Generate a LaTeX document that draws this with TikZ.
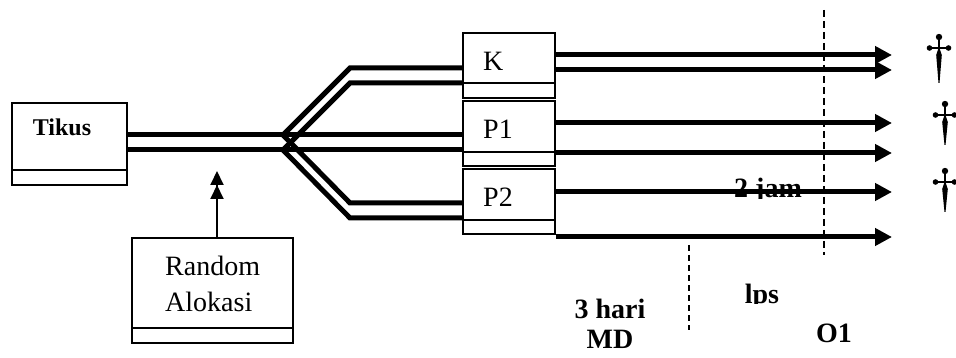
\documentclass[tikz,border=0pt]{standalone}
\usepackage{fontspec}
\setmainfont{Liberation Serif}
\usetikzlibrary{arrows.meta}
\begin{document}
\begin{tikzpicture}[x=1pt,y=-1pt,
  box/.style={draw,line width=1.1pt,rectangle,inner sep=0pt},
  rail/.style={line width=5pt,line join=miter},
  flow/.style={line width=5pt,-{Triangle[length=17pt,width=17pt]}},
  lbl/.style={font=\fontsize{28}{30}\selectfont,inner sep=0pt},
  blbl/.style={font=\fontsize{28}{30}\selectfont\bfseries,inner sep=0pt},
  marker/.style={line width=2pt,dash pattern=on 7pt off 4pt},
  cross/.pic={
    \fill (0,-11) circle (3.2);
    \fill (-9.5,0) circle (2.8);
    \fill (9.5,0) circle (2.8);
    \fill (-9.5,-1) -- (9.5,-1) -- (9.5,1) -- (-9.5,1) -- cycle;
    \fill (-1.1,-11) -- (1.1,-11) -- (1.1,0) -- (-1.1,0) -- cycle;
    \fill (0,-1.5) -- (2.8,7) -- (0.5,#1) -- (-0.5,#1) -- (-2.8,7) -- cycle;
  }
]
\useasboundingbox (0,0) rectangle (956,358);

% boxes
\node[box,minimum width=115pt,minimum height=82pt] (tikus) at (69.5,144) {};
\node[box,minimum width=161pt,minimum height=105pt] (random) at (212.5,290.5) {};
\node[box,minimum width=92pt,minimum height=65pt] (kbox) at (509,65.5) {};
\node[box,minimum width=92pt,minimum height=65pt] (p1box) at (509,133.5) {};
\node[box,minimum width=92pt,minimum height=65pt] (p2box) at (509,201.5) {};

% lower compartments of the boxes
\draw[line width=1.1pt] (12,170) -- (127,170);
\draw[line width=1.1pt] (132,328) -- (293,328);
\draw[line width=1.1pt] (463,83) -- (555,83);
\draw[line width=1.1pt] (463,152) -- (555,152);
\draw[line width=1.1pt] (463,220) -- (555,220);

% box labels
\node[blbl,font=\fontsize{24}{26}\selectfont\bfseries,anchor=base] (tikusl) at (62,136) {Tikus};
\node[lbl,anchor=base west] (randoml) at (165,276) {Random};
\node[lbl,anchor=base west] (alokasil) at (165,311) {Alokasi};
\node[lbl,anchor=base west] (kl) at (483,71) {K};
\node[lbl,anchor=base west] (p1l) at (483,139) {P1};
\node[lbl,anchor=base west] (p2l) at (483,207) {P2};

% row levels
\coordinate (ra) at (0,135);
\coordinate (rb) at (0,150);
\coordinate (ka) at (0,68);
\coordinate (kb) at (0,83);
\coordinate (pa) at (0,203);
\coordinate (pb) at (0,218);
\coordinate (sa) at (283,135);
\coordinate (sb) at (283,150);

% split of the animals into the three groups
\draw[rail] (tikus.east |- ra) -- (sa);
\draw[rail] (tikus.east |- rb) -- (sb);
\draw[rail] (sa) -- (350,68) -- (kbox.west |- ka);
\draw[rail] (sb) -- (350,83) -- (kbox.west |- kb);
\draw[rail] (sa) -- (p1box.west |- ra);
\draw[rail] (sb) -- (p1box.west |- rb);
\draw[rail] (sa) -- (350,203) -- (p2box.west |- pa);
\draw[rail] (sb) -- (350,218) -- (p2box.west |- pb);

% random allocation
\coordinate (ratip) at (217,171);
\draw[line width=2pt,-{Triangle[length=14pt,width=13pt,sep=0pt]Triangle[length=14pt,width=13pt]}]
  (random.north -| ratip) -- (ratip);

% timeline texts
\begin{scope}
  \clip (700,150) rectangle (840,198.5);
  \node[blbl,anchor=base] (jam) at (768,198) {2 jam};
\end{scope}
\begin{scope}
  \clip (700,260) rectangle (820,303);
  \node[blbl,anchor=base] (lps) at (762,303) {lps};
\end{scope}
\node[blbl,align=center,font=\fontsize{28}{30}\selectfont\bfseries,anchor=base] (hari) at (610,348) {3 hari\\MD};
\node[blbl,anchor=base] (o1) at (834,342) {O1};

% outgoing arrows
\coordinate (tip) at (892,0);
\draw[flow] (kbox.east |- 0,55) -- (tip |- 0,55);
\draw[flow] (kbox.east |- 0,70) -- (tip |- 0,70);
\draw[flow] (p1box.east |- 0,123) -- (tip |- 0,123);
\draw[flow] (p1box.east |- 0,153) -- (tip |- 0,153);
\draw[flow] (p2box.east |- 0,192) -- (tip |- 0,192);
\draw[flow] (p2box.east |- 0,237) -- (tip |- 0,237);

% time markers
\draw[marker] (824,10) -- (824,255);
\draw[line width=1.4pt,dash pattern=on 6pt off 4pt] (689,245) -- (689,330);

% deaths
\pic (d1) at (939,48) {cross=35};
\pic (d2) at (945,115) {cross=30};
\pic (d3) at (945,182) {cross=30};
\end{tikzpicture}
\end{document}
